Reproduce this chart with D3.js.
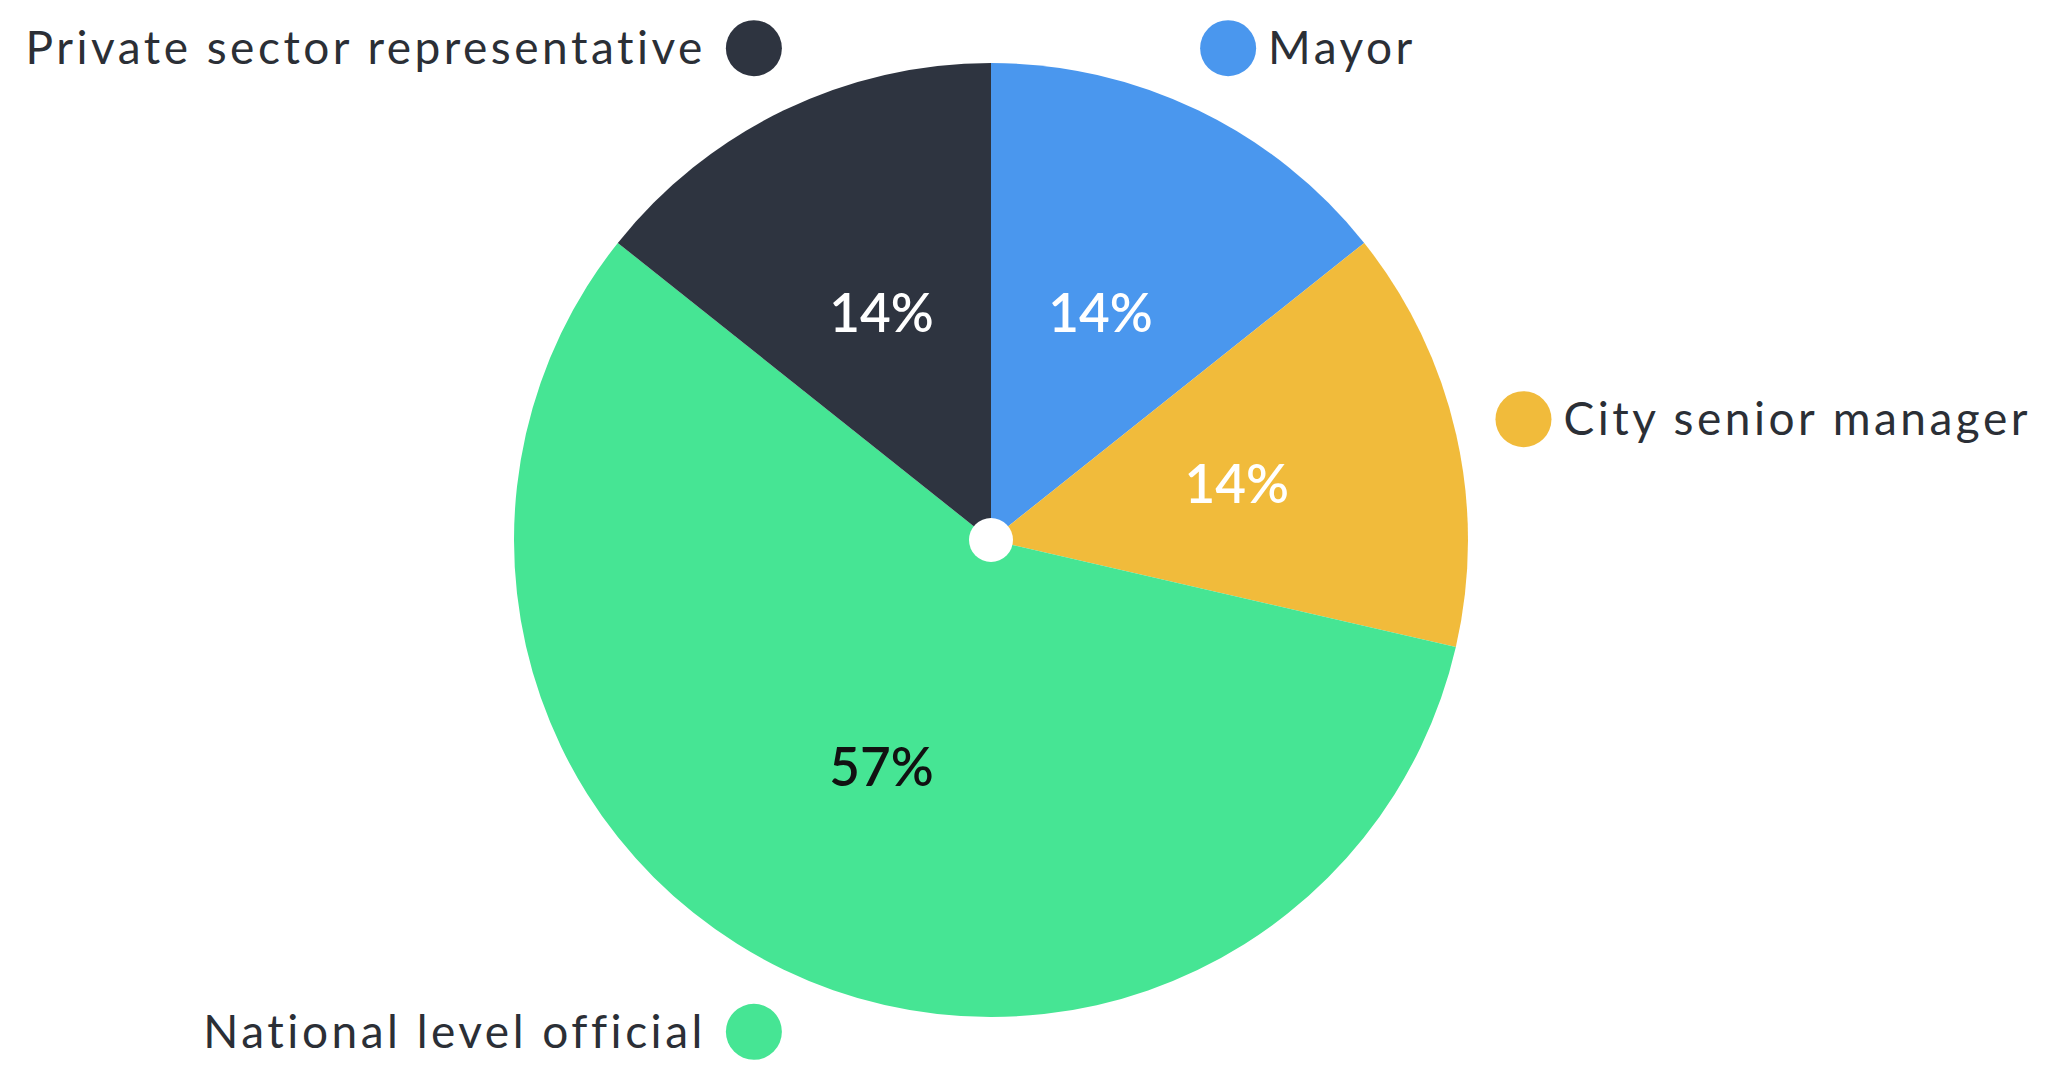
<!DOCTYPE html>
<html>
<head>
<meta charset="utf-8">
<script src="https://cdn.jsdelivr.net/npm/d3@7"></script>
<style>
  body { margin: 0; background: #fff; }
  text { font-family: Lato, 'Noto Sans', sans-serif; }
</style>
</head>
<body>
<script>
let width = 2049
let height = 1067

// shares of respondents, clockwise from 12 o'clock
let categories = ['Mayor', 'City senior manager', 'National level official', 'Private sector representative']
let shares = [14.3, 14.3, 57.1, 14.3]
let colors = ['#4a97ee', '#f1bb3b', '#46e594', '#2e3440']
let labelColors = ['#ffffff', '#ffffff', '#111111', '#ffffff']

let cx = 991
let cy = 540
let radius = 477

let svg = d3.select('body')
    .append('svg')
        .attr('width', width)
        .attr('height', height)

let g = svg.append('g')
    .attr('transform', 'translate(' + cx + ',' + cy + ')')

let data = categories.map((c, i) => ({ name: c, value: shares[i], color: colors[i], label: labelColors[i] }))

let pie = d3.pie()
    .sort(null)
    .value(d => d.value)

let arcs = pie(data)

let arc = d3.arc().innerRadius(0).outerRadius(radius)
let labelArc = d3.arc().innerRadius(252).outerRadius(252)
let dotArc = d3.arc().innerRadius(546).outerRadius(546)

g.selectAll('path')
    .data(arcs)
    .enter()
    .append('path')
        .attr('d', arc)
        .attr('fill', d => d.data.color)

// hole in the middle
g.append('circle')
    .attr('r', 22)
    .attr('fill', '#fff')

g.selectAll('.pct')
    .data(arcs)
    .enter()
    .append('text')
        .attr('class', 'pct')
        .attr('transform', d => 'translate(' + labelArc.centroid(d) + ')')
        .attr('text-anchor', 'middle')
        .attr('dy', '0.36em')
        .attr('font-size', 53)
        .attr('font-weight', 600)
        .attr('fill', d => d.data.label)
        .text(d => Math.round(d.data.value) + '%')

let isRight = d => (d.startAngle + d.endAngle) / 2 < Math.PI

let legend = g.selectAll('.legend')
    .data(arcs)
    .enter()
    .append('g')
        .attr('class', 'legend')
        .attr('transform', d => 'translate(' + dotArc.centroid(d) + ')')

legend.append('circle')
    .attr('r', 28)
    .attr('fill', d => d.data.color)

legend.append('text')
    .attr('x', d => isRight(d) ? 40 : -48)
    .attr('text-anchor', d => isRight(d) ? 'start' : 'end')
    .attr('dy', '0.35em')
    .attr('font-size', 46)
    .attr('letter-spacing', 3.5)
    .attr('fill', '#2b2f36')
    .text(d => d.data.name)
</script>
</body>
</html>
